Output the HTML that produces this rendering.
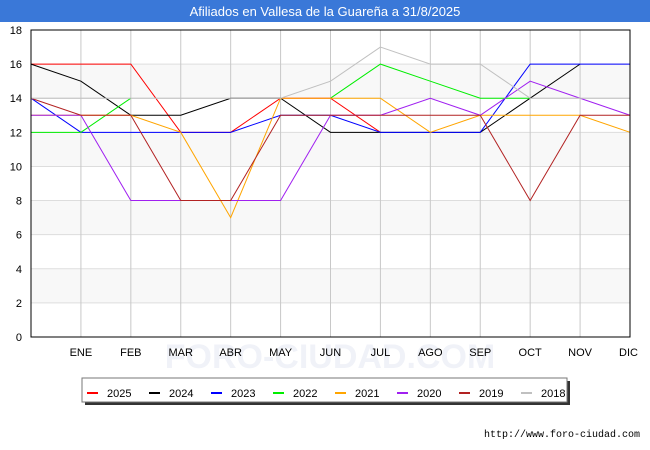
<!DOCTYPE html>
<html><head><meta charset="utf-8"><style>
body{margin:0;background:#fff;font-family:"Liberation Sans","DejaVu Sans",sans-serif}
svg{display:block}
</style></head><body>
<svg id="c" width="650" height="450" xmlns="http://www.w3.org/2000/svg">
<rect x="0" y="0" width="650" height="22" fill="#3a78d8"/>
<text x="325" y="16" text-anchor="middle" fill="#fff" font-size="13" font-family="Liberation Sans, sans-serif">Afiliados en Vallesa de la Guareña a 31/8/2025</text>
<text x="330" y="368" text-anchor="middle" fill="#f0f2f8" font-size="34" font-weight="bold" font-family="Liberation Sans, sans-serif">FORO-CIUDAD.COM</text>
<g id="grid"></g>
<g id="series"></g>
<rect x="31" y="30" width="599" height="307" fill="none" stroke="#000" stroke-width="1"/>
<g id="legend"></g>
<text x="640" y="437" text-anchor="end" font-size="10" font-family="Liberation Mono, monospace" fill="#000">http://www.foro-ciudad.com</text>
</svg>
<script>
const categories=["","ENE","FEB","MAR","ABR","MAY","JUN","JUL","AGO","SEP","OCT","NOV","DIC"];
const yTicks=[0,2,4,6,8,10,12,14,16,18];
const seriesNames=["2025","2024","2023","2022","2021","2020","2019","2018"];
const seriesColors=["#ff0000","#000000","#0000ff","#00ee00","#ffa500","#a020f0","#b22222","#c0c0c0"];
const s2025=[16,16,16,12,12,14,14,12,null,null,null,null,null];
const s2024=[16,15,13,13,14,14,12,12,12,12,14,16,null];
const s2023=[14,12,12,12,12,13,13,12,12,12,16,16,16];
const s2022=[12,12,14,null,null,null,14,16,15,14,14,null,null];
const s2021=[13,13,13,12,7,14,14,14,12,13,13,13,12];
const s2020=[13,13,8,8,8,8,13,13,14,13,15,14,13];
const s2019=[14,13,13,8,8,13,13,13,13,13,8,13,13];
const s2018=[14,14,14,14,14,14,15,17,16,16,14,14,14];
const allSeries=[s2025,s2024,s2023,s2022,s2021,s2020,s2019,s2018];
const NS="http://www.w3.org/2000/svg";
const x0=31,x1=630,y0=337,y1=30;
function xs(i){return x0+(x1-x0)*i/(categories.length-1);}
function ys(v){return y0-(y0-y1)*v/18;}
function mk(t,a){const e=document.createElementNS(NS,t);for(const k in a)e.setAttribute(k,a[k]);return e;}
const g=document.getElementById('grid');
for(let i=0;i<yTicks.length-1;i++){
  const band=mk('rect',{x:x0,y:ys(yTicks[i+1]),width:x1-x0,height:ys(yTicks[i])-ys(yTicks[i+1]),fill:(i%2==1)?'#f8f8f8':'#ffffff'});
  
  
  g.appendChild(band);
}
yTicks.forEach(v=>{
  const l=mk('line',{x1:x0,x2:x1,y1:ys(v),y2:ys(v),stroke:'#dddddd'});
  
  
  g.appendChild(l);
  const t=mk('text',{x:22,y:ys(v)+4,'text-anchor':'end','font-size':11});
  t.textContent=v;
  
  
  g.appendChild(t);
});
categories.forEach((c,i)=>{
  const l=mk('line',{x1:xs(i),x2:xs(i),y1:y1,y2:y0,stroke:'#c8c8c8'});
  
  
  g.appendChild(l);
  if(c){
    const t=mk('text',{x:xs(i),y:356,'text-anchor':i==12?'end':'middle','font-size':11});
    if(i==12)t.setAttribute('x',xs(i)+8);
    t.textContent=c;
    
    
    g.appendChild(t);
  }
});
const sg=document.getElementById('series');
for(let s=0;s<allSeries.length;s++){
  const d=allSeries[s];let path='';let pen=false;
  d.forEach((v,i)=>{if(v==null){pen=false;return;}path+=(pen?'L':'M')+xs(i)+','+ys(v)+' ';pen=true;});
  const p=mk('path',{d:path,fill:'none',stroke:seriesColors[s],'stroke-width':1});
  
  
  sg.appendChild(p);
}
const lg=document.getElementById('legend');
const sh=mk('rect',{x:85,y:381,width:485,height:24,fill:'#333'});


lg.appendChild(sh);
const box=mk('rect',{x:82,y:378,width:485,height:24,fill:'#fff',stroke:'#777'});


lg.appendChild(box);
seriesNames.forEach((n,i)=>{
  const bx=87+i*62;
  const m=mk('rect',{x:bx,y:392,width:11,height:2,fill:seriesColors[i]});
  
  
  lg.appendChild(m);
  const t=mk('text',{x:bx+20,y:397,'font-size':11});
  t.textContent=n;
  
  
  lg.appendChild(t);
});
</script>
</body></html>
